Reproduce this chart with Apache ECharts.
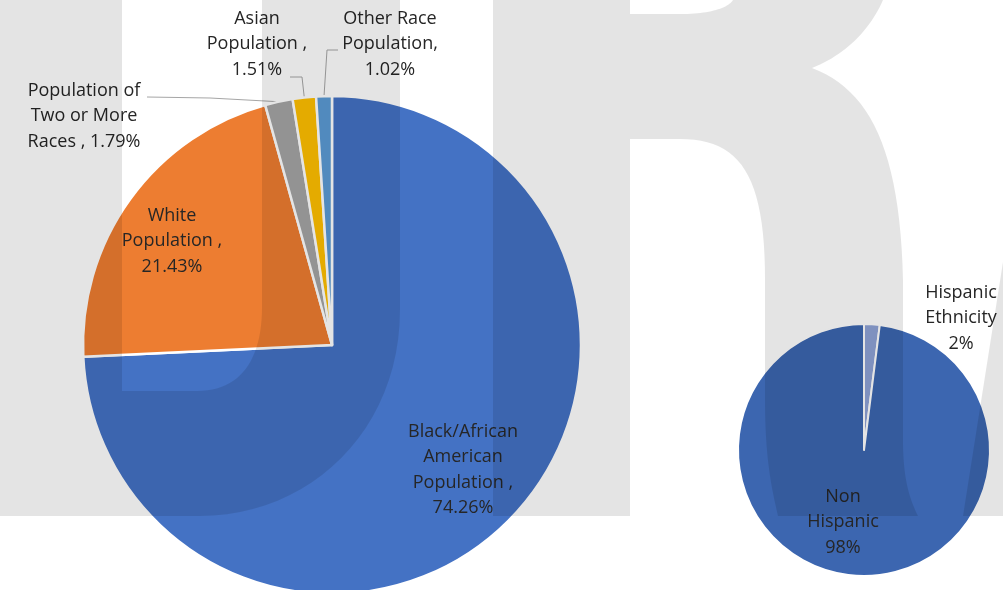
<!DOCTYPE html>
<html>
<head>
<meta charset="utf-8">
<script src="https://cdn.jsdelivr.net/npm/echarts@6/dist/echarts.min.js"></script>
<style>
  html, body { margin: 0; padding: 0; background: #fff; }
  #chart { width: 1003px; height: 590px; }
</style>
</head>
<body>
<div id="chart"></div>
<script>
// Population by race (percent of total)
const raceNames = ['Black/African American Population', 'White Population', 'Population of Two or More Races', 'Asian Population', 'Other Race Population'];
const raceShares = [74.26, 21.43, 1.79, 1.51, 1.02];
const raceLabels = ['Black/African\nAmerican\nPopulation ,\n{c}%', 'White\nPopulation ,\n{c}%', 'Population of\nTwo or More\nRaces , {c}%', 'Asian\nPopulation ,\n{c}%', 'Other Race\nPopulation,\n{c}%'];
const raceColors = ['#4472C4', '#ED7D31', '#A5A5A5', '#FFC000', '#5B9BD5'];

// Population by ethnicity (percent of total)
const ethnicityNames = ['Hispanic Ethnicity', 'Non Hispanic'];
const ethnicityShares = [2, 98];
const ethnicityLabels = ['Hispanic\nEthnicity\n{c}%', 'Non\nHispanic\n{c}%'];
const ethnicityColors = ['#8FA3D6', '#3C66B0'];

// Label placement: [x, y] centre of each label block
const raceLabelPos = [[463, 470], [172, 241], [84, 116], [257, 44], [390, 44]];
// Leader line elbows for the small slices: [elbow, end]
const raceLeaders = [null, null, [[210, 98], [147, 97]], [[302, 77], [290, 77]], [[327, 50], [338, 50]]];
const ethnicityLabelPos = [[961, 318], [843, 522]];

// Faded brand letters laid over the page (outline as M/L/C commands)
const shade = 'rgba(0,0,0,0.106)';
const letterU = 'M0,0 L122,0 L122,391 L197,391 C240,391 262,360 262,307 L262,0 L400,0 L400,310 ' +
  'C400,430 310,516 200,516 L0,516 Z';
const letterR = 'M493,0 L630,0 L630,14 L680,14 C710,14 728,8 733,0 L883,0 C870,30 845,55 812,68 ' +
  'C870,90 900,150 903,280 L903,440 C903,480 910,500 918,516 L778,516 C772,490 765,460 765,400 ' +
  'L765,280 C765,175 740,139 680,139 L630,139 L630,516 L493,516 Z';
const letterSlash = 'M1003,262 L1003,516 L963,516 Z';

// Flatten a simple M/L/C/Z outline into polygon points
function outlineToPoints(d) {
  const tokens = d.match(/[MLCZ]|-?\d+(\.\d+)?/g);
  const pts = [];
  let i = 0, cmd = null, cur = [0, 0];
  const num = () => parseFloat(tokens[i++]);
  while (i < tokens.length) {
    if (/[MLCZ]/.test(tokens[i])) cmd = tokens[i++];
    if (cmd === 'Z') continue;
    if (cmd === 'M' || cmd === 'L') {
      cur = [num(), num()];
      pts.push(cur);
    } else if (cmd === 'C') {
      const p1 = [num(), num()], p2 = [num(), num()], p3 = [num(), num()];
      const p0 = cur;
      for (let k = 1; k <= 24; k++) {
        const t = k / 24, u = 1 - t;
        pts.push([
          u * u * u * p0[0] + 3 * u * u * t * p1[0] + 3 * u * t * t * p2[0] + t * t * t * p3[0],
          u * u * u * p0[1] + 3 * u * u * t * p1[1] + 3 * u * t * t * p2[1] + t * t * t * p3[1]
        ]);
      }
      cur = p3;
    }
  }
  return pts;
}

const labelFont = {
  fontFamily: 'Open Sans',
  fontSize: 18,
  lineHeight: 25.5,
  color: '#262626',
  align: 'center'
};

function buildData(names, values, labels, colors, leaders) {
  return names.map((n, i) => ({
    name: n,
    value: values[i],
    itemStyle: { color: colors[i] },
    label: { formatter: labels[i] },
    labelLine: { show: !!(leaders && leaders[i]) }
  }));
}

const chart = echarts.init(document.getElementById('chart'), null, { renderer: 'canvas' });

chart.setOption({
  backgroundColor: '#ffffff',
  animation: false,
  series: [
    {
      type: 'pie',
      center: [332, 345],
      radius: 249,
      startAngle: 90,
      clockwise: true,
      avoidLabelOverlap: false,
      itemStyle: { borderColor: '#ffffff', borderWidth: 2.5 },
      label: Object.assign({ show: true, position: 'outside' }, labelFont),
      labelLine: { lineStyle: { color: '#a6a6a6', width: 1 } },
      labelLayout: function (p) {
        const pos = raceLabelPos[p.dataIndex];
        const out = { x: pos[0], y: pos[1], align: 'center', verticalAlign: 'middle' };
        const lead = raceLeaders[p.dataIndex];
        if (lead && p.labelLinePoints) {
          out.labelLinePoints = [p.labelLinePoints[0], lead[0], lead[1]];
        }
        return out;
      },
      data: buildData(raceNames, raceShares, raceLabels, raceColors, raceLeaders)
    },
    {
      type: 'pie',
      center: [864, 450],
      radius: 126,
      startAngle: 90,
      clockwise: true,
      avoidLabelOverlap: false,
      itemStyle: { borderColor: '#ffffff', borderWidth: 2 },
      label: Object.assign({ show: true, position: 'outside' }, labelFont),
      labelLine: { show: false },
      labelLayout: function (p) {
        const pos = ethnicityLabelPos[p.dataIndex];
        return { x: pos[0], y: pos[1], align: 'center', verticalAlign: 'middle' };
      },
      data: buildData(ethnicityNames, ethnicityShares, ethnicityLabels, ethnicityColors, null)
    }
  ],
  graphic: [letterU, letterR, letterSlash].map(d => ({
    type: 'polygon',
    silent: true,
    z: 100,
    shape: { points: outlineToPoints(d) },
    style: { fill: shade }
  }))
});
</script>
</body>
</html>
